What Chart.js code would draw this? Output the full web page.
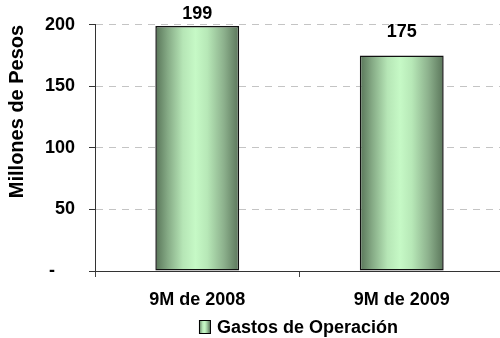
<!DOCTYPE html>
<html>
<head>
<meta charset="utf-8">
<script src="https://cdn.jsdelivr.net/npm/chart.js@4/dist/chart.umd.min.js"></script>
<style>
  html, body { margin: 0; padding: 0; background: #ffffff; overflow: hidden; }
  #wrap { width: 500px; height: 338px; overflow: hidden; }
  canvas { display: block; }
</style>
</head>
<body>
<div id="wrap"><canvas id="c" width="504" height="338"></canvas></div>
<script>
// Operating expenses, millions of pesos
const categories = ['9M de 2008', '9M de 2009'];
const gastosOperacion = [199, 175];
const seriesName = 'Gastos de Operación';
const yTicks = [0, 50, 100, 150, 200];

const FONT = '"Liberation Sans", Arial, sans-serif';

// Horizontal "cylinder" shading across each bar
function barGradient(ctx, left, right) {
  const g = ctx.createLinearGradient(left, 0, right, 0);
  g.addColorStop(0.00, '#587458');
  g.addColorStop(0.15, '#86ab86');
  g.addColorStop(0.33, '#b6e6b6');
  g.addColorStop(0.48, '#c6f9c6');
  g.addColorStop(0.62, '#b7e8b7');
  g.addColorStop(0.82, '#8cb08c');
  g.addColorStop(1.00, '#5a755a');
  return g;
}

const BAR_PCT = 0.41;

// Apply the shading to each bar once its geometry is known
const barShading = {
  id: 'barShading',
  beforeDatasetsDraw(chart) {
    const meta = chart.getDatasetMeta(0);
    meta.data.forEach(bar => {
      const left = bar.x - bar.width / 2;
      const right = bar.x + bar.width / 2;
      if (isFinite(left) && isFinite(right) && bar.options) {
        bar.options.backgroundColor = barGradient(chart.ctx, left, right);
      }
    });
  }
};

// Value above each bar, kept inside the top of the canvas
const valueLabels = {
  id: 'valueLabels',
  afterDatasetsDraw(chart) {
    const ctx = chart.ctx;
    const meta = chart.getDatasetMeta(0);
    ctx.save();
    ctx.font = 'bold 18px ' + FONT;
    ctx.fillStyle = '#000';
    ctx.textAlign = 'center';
    ctx.textBaseline = 'alphabetic';
    meta.data.forEach((bar, i) => {
      const v = chart.data.datasets[0].data[i];
      const y = Math.max(bar.y - 19, 19);
      ctx.fillText(String(v), bar.x, y);
    });
    ctx.restore();
  }
};

// Legend centred under the plot area
const plotLegend = {
  id: 'plotLegend',
  afterDraw(chart) {
    const ctx = chart.ctx;
    const area = chart.chartArea;
    const label = chart.data.datasets[0].label;
    ctx.save();
    ctx.font = 'bold 18px ' + FONT;
    const tw = ctx.measureText(label).width;
    const box = 11, gap = 7;
    const total = box + gap + tw;
    const x0 = (area.left + area.right) / 2 - total / 2 - 1;
    const cy = 327;
    ctx.fillStyle = barGradient(ctx, x0, x0 + box);
    ctx.fillRect(x0, cy - 7, box, 14);
    ctx.strokeStyle = '#000';
    ctx.lineWidth = 1;
    ctx.strokeRect(x0 + 0.5, cy - 6.5, box, 13);
    ctx.fillStyle = '#000';
    ctx.textAlign = 'left';
    ctx.textBaseline = 'middle';
    ctx.fillText(label, x0 + box + gap, cy + 1);
    ctx.restore();
  }
};

new Chart(document.getElementById('c'), {
  type: 'bar',
  data: {
    labels: categories,
    datasets: [{
      label: seriesName,
      data: gastosOperacion,
      backgroundColor: () => '#b0e0b0',
      borderColor: '#111',
      borderWidth: 1.5,
      borderSkipped: false,
      categoryPercentage: 1,
      barPercentage: BAR_PCT
    }]
  },
  options: {
    responsive: false,
    animation: false,
    events: [],
    layout: { padding: { top: 24, left: 0, right: 0, bottom: 0 } },
    plugins: {
      legend: { display: false },
      tooltip: { enabled: false }
    },
    scales: {
      x: {
        grid: {
          offset: true,
          drawOnChartArea: false,
          drawTicks: true,
          tickLength: 6,
          tickColor: '#444',
          color: '#444'
        },
        border: { color: '#333', width: 1 },
        ticks: {
          color: '#000',
          padding: 12,
          font: { family: FONT, size: 18, weight: 'bold' }
        },
        afterFit(scale) { scale.height = 67; }
      },
      y: {
        min: 0,
        max: 200,
        afterBuildTicks(scale) { scale.ticks = yTicks.map(v => ({ value: v })); },
        grid: {
          color: '#c4c4c4',
          lineWidth: 1,
          tickLength: 6,
          tickColor: '#333',
          tickBorderDash: []
        },
        border: { color: '#333', width: 1, dash: [7, 6] },
        ticks: {
          color: '#000',
          padding: 14,
          font: { family: FONT, size: 18, weight: 'bold' },
          callback: v => (v === 0 ? '-    ' : String(v))
        },
        title: {
          display: true,
          text: 'Millones de Pesos',
          align: 'end',
          color: '#000',
          padding: { top: 5, bottom: 0 },
          font: { family: FONT, size: 20, weight: 'bold' }
        },
        afterFit(scale) { scale.width = 95; }
      }
    }
  },
  plugins: [barShading, valueLabels, plotLegend]
});
</script>
</body>
</html>
